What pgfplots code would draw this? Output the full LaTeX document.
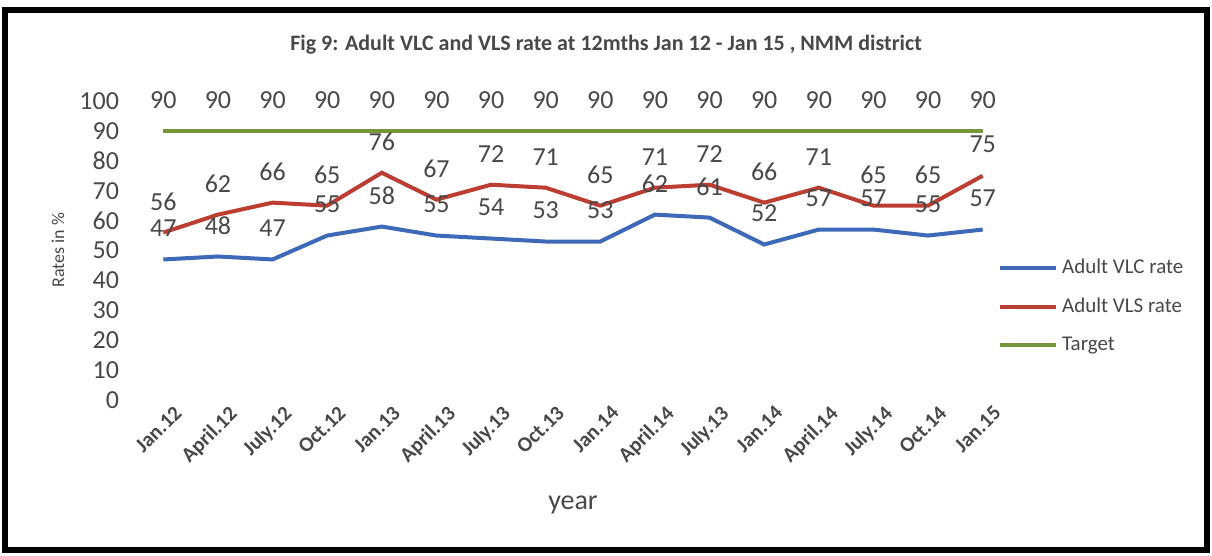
\documentclass[border=0pt]{standalone}
\usepackage{pgfplots}
\pgfplotsset{compat=1.18}
\usepackage{fontspec}
\setmainfont{Carlito}
\definecolor{vlc}{RGB}{62,104,184}
\definecolor{vls}{RGB}{188,62,50}
\definecolor{tgt}{RGB}{118,150,58}
\definecolor{lbl}{RGB}{72,72,72}
\begin{document}
\begin{tikzpicture}
\useasboundingbox (-68pt,-78pt) rectangle (538pt,200pt);
\fill[white] (-68pt,-78pt) rectangle (538pt,200pt);
\draw[line width=3pt] (-65.5pt,-75pt) rectangle (535.5pt,195pt);
\begin{axis}[
  at={(0,0)}, anchor=south west,
  scale only axis, width=437pt, height=149.5pt,
  xmin=-0.5, xmax=15.5, ymin=0, ymax=100,
  axis line style={draw=none},
  major tick length=0pt,
  xtick={0,...,15},
  xticklabels={Jan.12,April.12,July.12,Oct.12,Jan.13,April.13,July.13,Oct.13,Jan.14,April.14,July.13,Jan.14,April.14,July.14,Oct.14,Jan.15},
  xticklabel style={rotate=45, anchor=north east, font=\fontsize{10.5}{12}\selectfont\bfseries, text=lbl, yshift=-4pt, xshift=3pt, inner sep=1pt},
  ytick={0,10,...,100},
  yticklabel style={font=\fontsize{13}{15}\selectfont, text=lbl, xshift=-5pt},
  /pgf/number format/assume math mode=true,
  clip=false,
  nodes near coords,
  every node near coord/.append style={anchor=center, yshift=15.5pt, font=\fontsize{13}{15}\selectfont, text=lbl},
  legend style={at={(rel axis cs:0.986,0.485)}, anchor=north west, draw=none, fill=none,
    font=\fontsize{10.5}{13}\selectfont, text=lbl, row sep=6.5pt,
    legend cell align=left, inner sep=0pt},
  legend image code/.code={\draw[#1, line width=2pt] (0pt,0pt) -- (28pt,0pt);},
]
\addplot[vlc, line width=2pt] coordinates {
(0,47) (1,48) (2,47) (3,55) (4,58) (5,55) (6,54) (7,53) (8,53) (9,62) (10,61) (11,52) (12,57) (13,57) (14,55) (15,57)};
\addlegendentry{Adult VLC rate}
\addplot[vls, line width=2pt] coordinates {
(0,56) (1,62) (2,66) (3,65) (4,76) (5,67) (6,72) (7,71) (8,65) (9,71) (10,72) (11,66) (12,71) (13,65) (14,65) (15,75)};
\addlegendentry{Adult VLS rate}
\addplot[tgt, line width=2pt] coordinates {
(0,90) (1,90) (2,90) (3,90) (4,90) (5,90) (6,90) (7,90) (8,90) (9,90) (10,90) (11,90) (12,90) (13,90) (14,90) (15,90)};
\addlegendentry{Target}
\end{axis}
\node[font=\fontsize{11}{13}\selectfont\bfseries, text=lbl] at (235pt,177.5pt) {Fig 9: Adult VLC and VLS rate at 12mths Jan 12 - Jan 15 , NMM district};
\node[font=\fontsize{14}{16}\selectfont, text=lbl] at (218.5pt,-52.5pt) {year};
\node[font=\fontsize{9}{11}\selectfont, text=lbl, rotate=90] at (-39pt,75pt) {Rates in \%};
\end{tikzpicture}
\end{document}
